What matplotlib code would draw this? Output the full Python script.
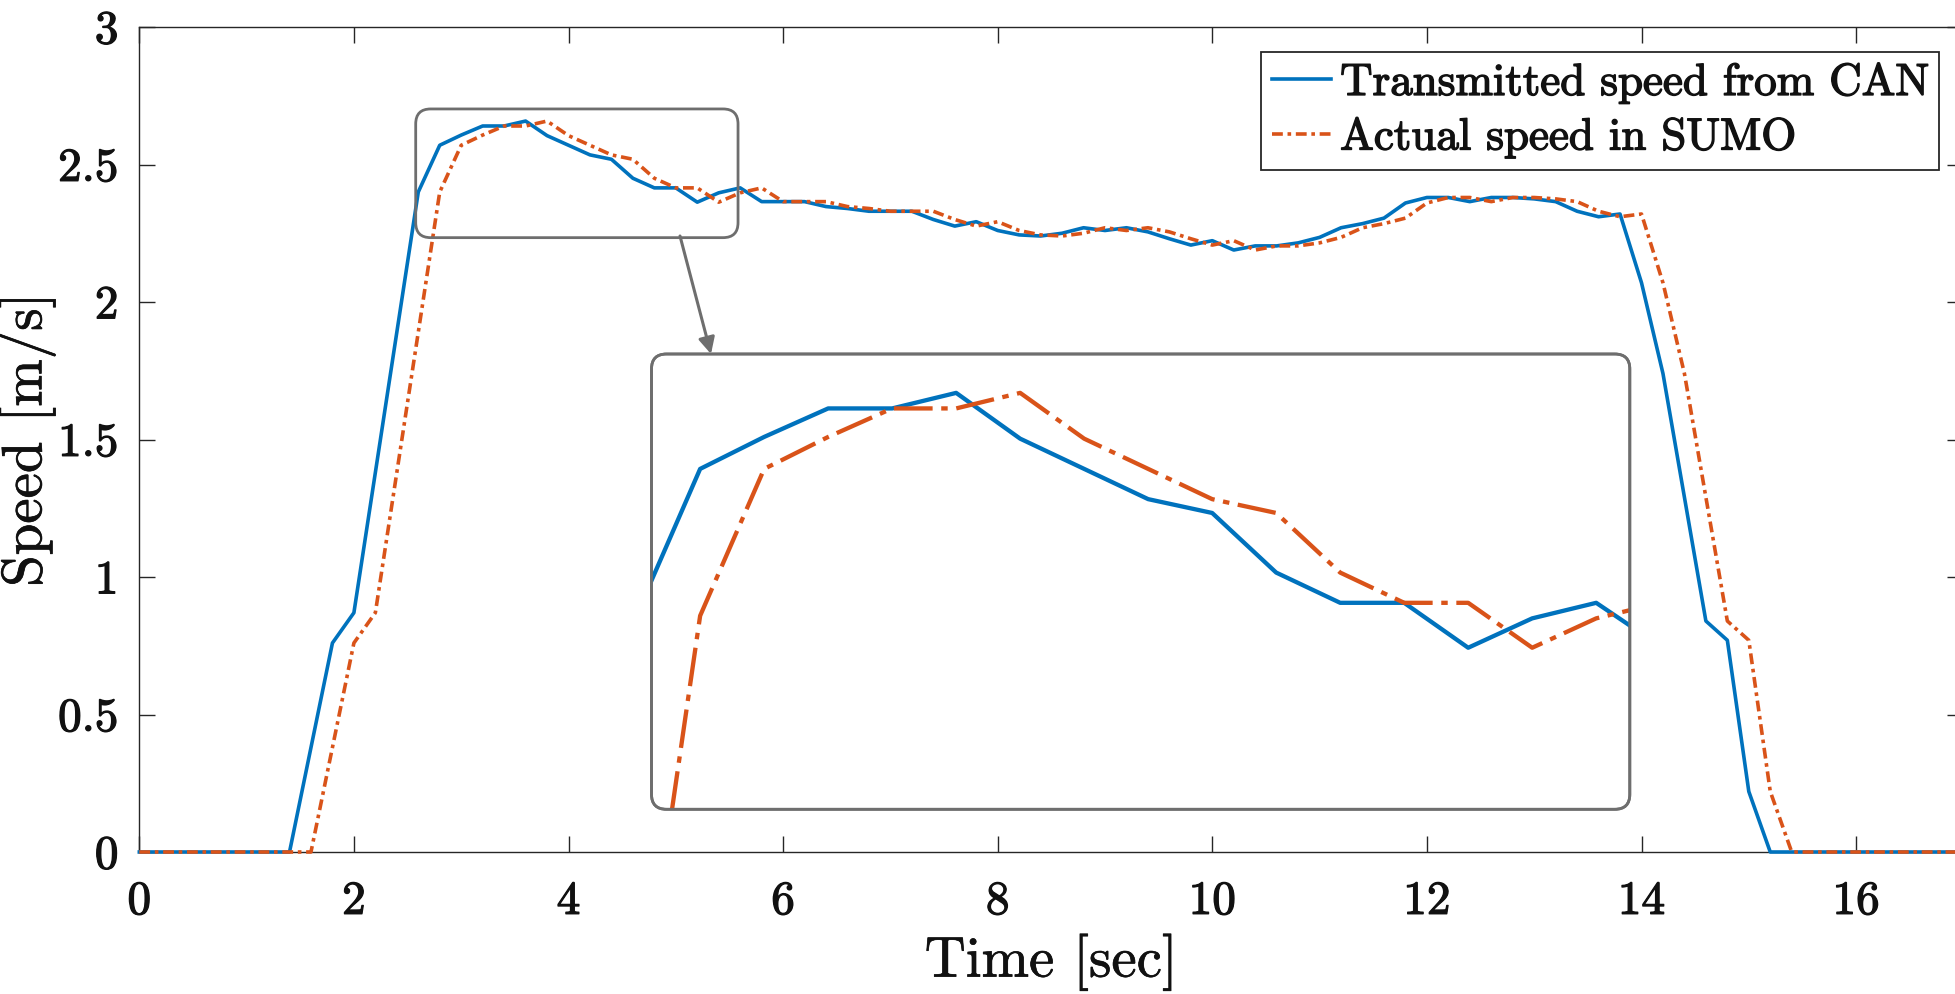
import numpy as np
import matplotlib
matplotlib.use("Agg")
import matplotlib.pyplot as plt
import matplotlib.patheffects as pe
from matplotlib.patches import FancyBboxPatch, FancyArrowPatch
from matplotlib.transforms import IdentityTransform

# ---------------- data ----------------
time_s = [0.0, 0.2, 0.4, 0.6, 0.8, 1.0, 1.2, 1.4, 1.6, 1.8,
          2.0, 2.2, 2.4, 2.6, 2.8, 3.0, 3.2, 3.4, 3.6, 3.8,
          4.0, 4.2, 4.4, 4.6, 4.8, 5.0, 5.2, 5.4, 5.6, 5.8,
          6.0, 6.2, 6.4, 6.6, 6.8, 7.0, 7.2, 7.4, 7.6, 7.8,
          8.0, 8.2, 8.4, 8.6, 8.8, 9.0, 9.2, 9.4, 9.6, 9.8,
          10.0, 10.2, 10.4, 10.6, 10.8, 11.0, 11.2, 11.4, 11.6, 11.8,
          12.0, 12.2, 12.4, 12.6, 12.8, 13.0, 13.2, 13.4, 13.6, 13.8,
          14.0, 14.2, 14.4, 14.6, 14.8, 15.0, 15.2, 15.4, 15.6, 15.8,
          16.0, 16.2, 16.4, 16.6, 16.8, 17.0]

can_speed = [0, 0, 0, 0, 0, 0, 0, 0, 0.38, 0.76,
             0.87, 1.38, 1.89, 2.40, 2.57, 2.607, 2.64, 2.64, 2.658, 2.605,
             2.57, 2.535, 2.519, 2.45, 2.415, 2.415, 2.363, 2.397, 2.415, 2.365,
             2.365, 2.365, 2.347, 2.34, 2.33, 2.33, 2.33, 2.30, 2.276, 2.292,
             2.26, 2.244, 2.24, 2.25, 2.27, 2.26, 2.27, 2.255, 2.23, 2.207,
             2.223, 2.189, 2.204, 2.204, 2.215, 2.235, 2.27, 2.285, 2.305, 2.36,
             2.38, 2.38, 2.365, 2.38, 2.38, 2.375, 2.365, 2.33, 2.31, 2.32,
             2.07, 1.74, 1.29, 0.84, 0.77, 0.22, 0, 0, 0, 0,
             0, 0, 0, 0, 0, 0]

sumo_speed = [0, 0, 0, 0, 0, 0, 0, 0, 0, 0.38,
              0.76, 0.87, 1.38, 1.89, 2.40, 2.57, 2.607, 2.64, 2.64, 2.658,
              2.605, 2.57, 2.535, 2.519, 2.45, 2.415, 2.415, 2.363, 2.397, 2.415,
              2.365, 2.365, 2.365, 2.347, 2.34, 2.33, 2.33, 2.33, 2.30, 2.276,
              2.292, 2.26, 2.244, 2.24, 2.25, 2.27, 2.26, 2.27, 2.255, 2.23,
              2.207, 2.223, 2.189, 2.204, 2.204, 2.215, 2.235, 2.27, 2.285, 2.305,
              2.36, 2.38, 2.38, 2.365, 2.38, 2.38, 2.375, 2.365, 2.33, 2.31,
              2.32, 2.07, 1.74, 1.29, 0.84, 0.77, 0.22, 0, 0, 0,
              0, 0, 0, 0, 0, 0]

x_ticks = [0, 2, 4, 6, 8, 10, 12, 14, 16]
y_ticks = [0, 0.5, 1, 1.5, 2, 2.5, 3]
y_tick_labels = ["0", "0.5", "1", "1.5", "2", "2.5", "3"]
series_labels = ["Transmitted speed from CAN", "Actual speed in SUMO"]
x_label = "Time [sec]"
y_label = "Speed [m/s]"

# zoomed region shown in the inset
zoom_box = (2.576, 5.58, 2.234, 2.702)      # x0, x1, y0, y1 of the marker box
inset_xlim = (2.648, 5.705)
inset_ylim = (2.176, 2.703)

assert len(time_s) == len(can_speed) == len(sumo_speed)

# ---------------- style ----------------
BLUE = "#0072BD"
ORANGE = "#D95319"
AXC = "#262626"
GRAY = "#6e6e6e"

plt.rcParams["font.family"] = ["cmr10", "DejaVu Serif"]
plt.rcParams["axes.formatter.use_mathtext"] = True
plt.rcParams["mathtext.fontset"] = "cm"

W, H = 1956, 994
fig = plt.figure(figsize=(W / 100, H / 100), dpi=100)
fig.patch.set_facecolor("white")

# axes geometry in pixels (top-down)
L, R, T, B = 139.3, 1963.4, 27.0, 852.0
ax = fig.add_axes([L / W, (H - B) / H, (R - L) / W, (B - T) / H])

l1, = ax.plot(time_s, can_speed, color=BLUE, lw=2.6, clip_on=False,
              label=series_labels[0], zorder=3)
l2, = ax.plot(time_s, sumo_speed, color=ORANGE, lw=2.6, clip_on=False,
              dashes=(3, 1.3, 1, 1.3), label=series_labels[1], zorder=4)

ax.set_xlim(0, 17)
ax.set_ylim(0, 3)
ax.set_xticks(x_ticks)
ax.set_yticks(y_ticks)
ax.set_xticklabels([str(v) for v in x_ticks])
ax.set_yticklabels(y_tick_labels)
ax.tick_params(axis="both", direction="in", length=11.5, width=1.0,
               color=AXC, top=True, right=True, labelsize=34,
               labelcolor="#111111")
ax.tick_params(axis="x", pad=21)
ax.tick_params(axis="y", pad=15)
for s in ax.spines.values():
    s.set_color(AXC)
    s.set_linewidth(1.0)

heavy = [pe.withStroke(linewidth=0.9, foreground="#111111")]
for lab in ax.get_xticklabels() + ax.get_yticklabels():
    lab.set_path_effects(heavy)

ax.set_xlabel(x_label, fontsize=41, labelpad=7, color="#111111")
ax.set_ylabel(y_label, fontsize=41, labelpad=2, color="#111111")
ax.xaxis.label.set_path_effects([pe.withStroke(linewidth=0.5, foreground="#111111")])
ax.yaxis.label.set_path_effects([pe.withStroke(linewidth=0.5, foreground="#111111")])

leg = ax.legend(loc="upper right",
                bbox_to_anchor=(1939.5 / W, (H - 51.7) / H),
                bbox_transform=fig.transFigure, borderaxespad=0,
                fontsize=32.4, handlelength=1.31, handletextpad=0.2,
                borderpad=0.25, labelspacing=0.3, fancybox=False,
                framealpha=1, edgecolor=AXC)
leg.get_frame().set_linewidth(1.3)
for txt in leg.get_texts():
    txt.set_color("#111111")
    txt.set_path_effects([pe.withStroke(linewidth=1.0, foreground="#111111")])

# ---------------- zoom marker box in main axes ----------------
fig.canvas.draw()
p0 = ax.transData.transform((zoom_box[0], zoom_box[2]))
p1 = ax.transData.transform((zoom_box[1], zoom_box[3]))
mbox = FancyBboxPatch((p0[0], p0[1]), p1[0] - p0[0], p1[1] - p0[1],
                      boxstyle="round,pad=0,rounding_size=15",
                      transform=IdentityTransform(), fc="none", ec=GRAY,
                      lw=2.0, zorder=6)
fig.patches.append(mbox)

# ---------------- inset ----------------
iL, iR, iT, iB = 651.5, 1629.8, 354.0, 809.3
iframe = FancyBboxPatch((iL, H - iB), iR - iL, iB - iT,
                        boxstyle="round,pad=0,rounding_size=15",
                        transform=IdentityTransform(), fc="white", ec=GRAY,
                        lw=2.0, zorder=0)
fig.patches.append(iframe)
iax = fig.add_axes([iL / W, (H - iB) / H, (iR - iL) / W, (iB - iT) / H], zorder=5)
iax.set_xlim(*inset_xlim)
iax.set_ylim(*inset_ylim)
iax.set_axis_off()
iax.patch.set_alpha(0)
il1, = iax.plot(time_s, can_speed, color=BLUE, lw=3.1)
il2, = iax.plot(time_s, sumo_speed, color=ORANGE, lw=3.1, dashes=(9, 2, 1.5, 2))
clip = FancyBboxPatch((iL, H - iB), iR - iL, iB - iT,
                      boxstyle="round,pad=0,rounding_size=15",
                      transform=IdentityTransform())
il1.set_clip_path(clip)
il2.set_clip_path(clip)
iframe2 = FancyBboxPatch((iL, H - iB), iR - iL, iB - iT,
                         boxstyle="round,pad=0,rounding_size=15",
                         transform=IdentityTransform(), fc="none", ec=GRAY,
                         lw=2.0, zorder=10)
fig.patches.append(iframe2)

# ---------------- arrow ----------------
arr = FancyArrowPatch(posA=(680, H - 236), posB=(711, H - 354),
                      arrowstyle="-|>,head_length=0.7,head_width=0.35",
                      mutation_scale=14, lw=2.2, color=GRAY,
                      shrinkA=0, shrinkB=0, transform=IdentityTransform(),
                      zorder=7)
fig.patches.append(arr)

fig.savefig("out.png", dpi=100, facecolor="white")
